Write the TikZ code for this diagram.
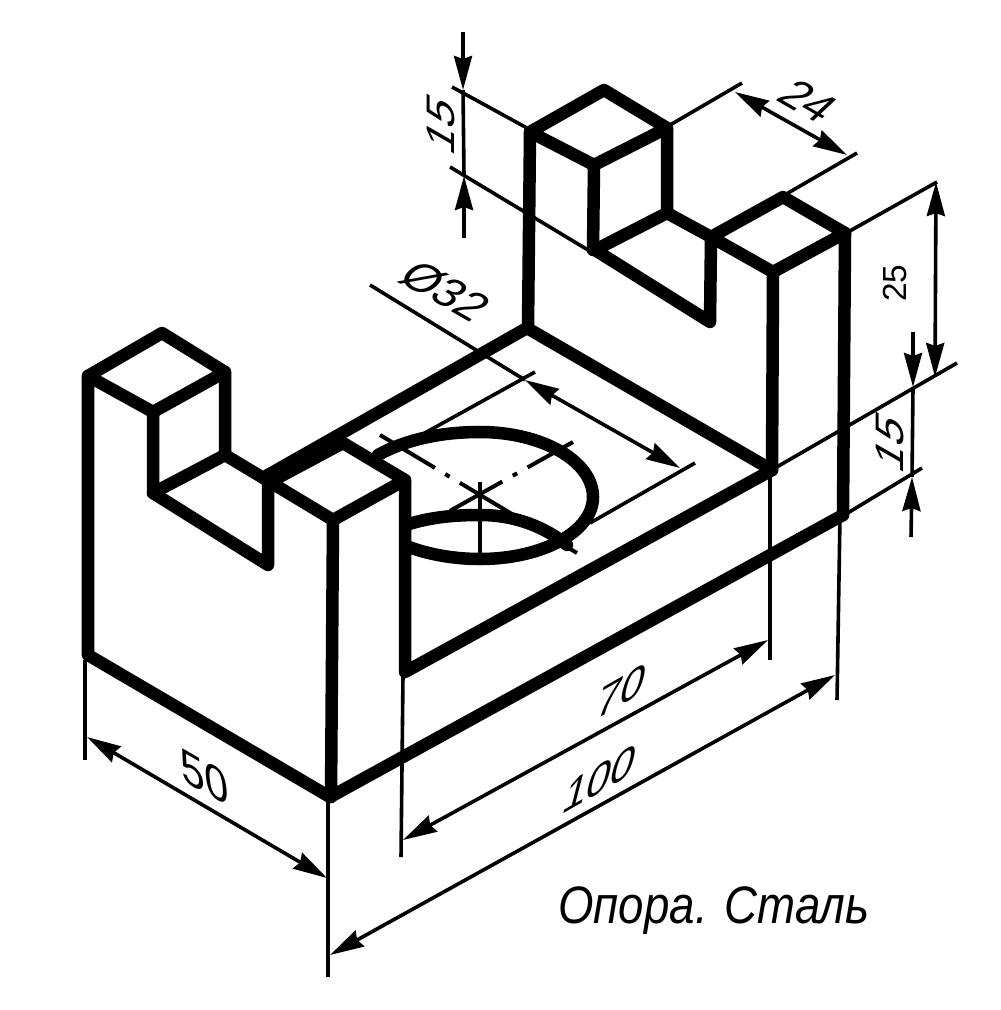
\documentclass[tikz,border=0pt]{standalone}
\usepackage{fontspec}
\setmainfont{Liberation Sans}
\usetikzlibrary{arrows.meta}
\tikzset{
    outline/.style={line width=0.125cm,line cap=round,line join=round},
    dimline/.style={line width=0.036cm},
    axisline/.style={line width=0.04cm},
    dimtext/.style={font=\fontsize{14}{14}\selectfont,inner sep=0pt,transform shape},
    >={Stealth[length=3.4mm,width=1.8mm,inset=0.3mm]}
}
\begin{document}
\begin{tikzpicture}[x=0.01cm,y=-0.01cm]
    \useasboundingbox (0,0) rectangle (1000,1010);

    % centre lines of the hole
    \draw[axisline,dash pattern=on 0.64cm off 0.12cm on 0.05cm off 0.12cm on 1.4cm off 1cm] (380,435) -- (577,553);
    \draw[axisline,dash pattern=on 0.52cm off 0.12cm on 0.05cm off 0.12cm on 0.6cm off 1cm] (573,442) -- (448,512);
    \draw[axisline] (480,482) -- (480,555);

    % hole
    \draw[outline] (378,455) .. controls (405,440) and (440,432) .. (480,432)
        .. controls (542,432) and (593,461) .. (593,497)
        .. controls (593,532) and (542,559) .. (480,559)
        .. controls (450,559) and (425,553) .. (409,547);
    \draw[outline] (409,524) .. controls (432,517) and (455,515) .. (480,515)
        .. controls (515,515) and (545,527) .. (567,545);

    % left post
    \draw[outline] (88,376) -- (162,333) -- (225,372) -- (153,412) -- cycle;
    \draw[outline] (88,376) -- (88,655) -- (330,797) -- (843,515);
    \draw[outline] (153,412) -- (153,493) -- (268,565) -- (268,475);
    \draw[outline] (225,372) -- (225,455) -- (153,493);
    \draw[outline] (225,455) -- (270,482);

    % front post
    \draw[outline] (270,482) -- (343,443) -- (405,480) -- (333,520) -- cycle;
    \draw[outline] (333,520) -- (331,797);
    \draw[outline] (405,480) -- (405,672) -- (772,470);

    % floor
    \draw[outline] (268,475) -- (527,328) -- (772,470);

    % back post
    \draw[outline] (530,132) -- (604,90) -- (667,128) -- (594,165) -- cycle;
    \draw[outline] (530,132) -- (528,328);
    \draw[outline] (594,165) -- (593,250);
    \draw[outline] (667,128) -- (667,213) -- (595,250) -- (710,322) -- (711,237);
    \draw[outline] (667,213) -- (711,237);

    % right post
    \draw[outline] (711,237) -- (783,197) -- (845,233) -- (773,272) -- cycle;
    \draw[outline] (773,272) -- (772,470);
    \draw[outline] (845,233) -- (843,515);

    % extension lines
    \draw[dimline] (452,87) -- (527,128);
    \draw[dimline] (450,167) -- (588,250);
    \draw[dimline] (670,125) -- (742,83);
    \draw[dimline] (788,193) -- (857,153);
    \draw[dimline] (848,232) -- (937,182);
    \draw[dimline] (775,468) -- (957,363);
    \draw[dimline] (846,514) -- (922,468);
    \draw[dimline] (423,434) -- (535,372);
    \draw[dimline] (590,523) -- (695,463);
    \draw[dimline] (85,660) -- (85,760);
    \draw[dimline] (328,800) -- (328,977);
    \draw[dimline] (403,675) -- (401,857);
    \draw[dimline] (770,470) -- (770,660);
    \draw[dimline] (840,515) -- (837,700);

    % dimension lines
    \draw[dimline,->] (463,32) -- (463,90);
    \draw[dimline] (463,90) -- (464,176);
    \draw[dimline,->] (464,238) -- (464,176);
    \draw[dimline,<->] (735,92) -- (847,155);
    \draw[dimline,<->] (936,182) -- (935,377);
    \draw[dimline,->] (913,332) -- (913,387);
    \draw[dimline] (913,387) -- (912,477);
    \draw[dimline,->] (911,537) -- (912,477);
    \draw[dimline] (370,285) -- (525,380);
    \draw[dimline,<->] (525,380) -- (680,468);
    \draw[dimline,<->] (87,737) -- (327,878);
    \draw[dimline,<->] (403,840) -- (768,640);
    \draw[dimline,<->] (330,955) -- (835,675);

    % sizes
    \path (441,124) node[dimtext,font=\fontsize{13}{13}\selectfont,cm={0,1,-0.87,0.5,(0,0)}] (dimpost) {15};
    \path (808,101) node[dimtext,font=\fontsize{13}{13}\selectfont,cm={0.87,-0.5,0.73,0.68,(0,0)}] (dimslot) {24};
    \path (446,291) node[dimtext,font=\fontsize{13}{13}\selectfont,cm={0.87,-0.5,0.73,0.68,(0,0)}] (dimhole) {Ø32};
    \path (895,283) node[dimtext,font=\fontsize{9.5}{10}\selectfont,rotate=90] (dimheight) {25};
    \path (890,442) node[dimtext,font=\fontsize{13}{13}\selectfont,cm={0,1,-0.87,0.5,(0,0)}] (dimbase) {15};
    \path (205,777) node[dimtext,cm={0.87,-0.5,-0.1,1,(0,0)}] (dimwidth) {50};
    \path (622,691) node[dimtext,cm={0.87,0.5,0.25,0.97,(0,0)}] (diminner) {70};
    \path (600,779) node[dimtext,cm={0.87,0.5,0.25,0.97,(0,0)}] (dimlength) {100};
    \path (714,911) node[dimtext,font=\fontsize{15}{15}\selectfont\itshape,xscale=0.865] (caption) {Опора. Сталь};
\end{tikzpicture}
\end{document}
